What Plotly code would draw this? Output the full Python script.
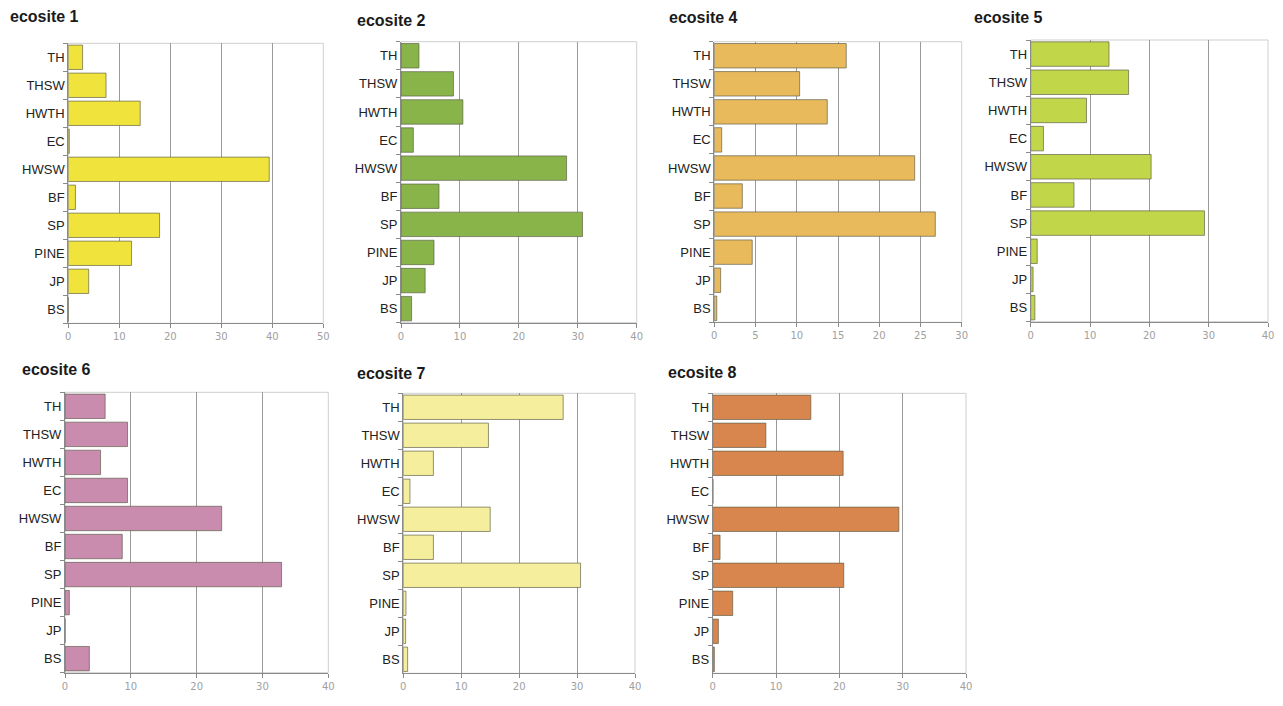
import plotly.graph_objects as go

categories = ["TH", "THSW", "HWTH", "EC", "HWSW", "BF", "SP", "PINE", "JP", "BS"]

ecosite_names = ["ecosite 1", "ecosite 2", "ecosite 4", "ecosite 5", "ecosite 6", "ecosite 7", "ecosite 8"]

ecosite1 = [2.8, 7.4, 14.1, 0.2, 39.4, 1.4, 17.9, 12.4, 4.0, 0.0]
ecosite2 = [3.05, 8.9, 10.5, 2.1, 28.1, 6.45, 30.8, 5.6, 4.1, 1.8]
ecosite4 = [16.0, 10.35, 13.7, 0.9, 24.3, 3.4, 26.8, 4.6, 0.77, 0.3]
ecosite5 = [13.2, 16.5, 9.4, 2.15, 20.3, 7.3, 29.3, 1.1, 0.4, 0.7]
ecosite6 = [6.1, 9.5, 5.4, 9.5, 23.8, 8.7, 32.9, 0.66, 0.0, 3.7]
ecosite7 = [27.6, 14.7, 5.2, 1.15, 15.0, 5.2, 30.6, 0.46, 0.4, 0.75]
ecosite8 = [15.5, 8.4, 20.6, 0.05, 29.4, 1.16, 20.7, 3.16, 0.9, 0.26]

series = [ecosite1, ecosite2, ecosite4, ecosite5, ecosite6, ecosite7, ecosite8]
colors = ["#F0E43C", "#88B44A", "#E8BA5C", "#C2D64A", "#C98BAE", "#F5EE9C", "#D8864E"]
x_max = [50, 40, 30, 40, 40, 40, 40]
x_dtick = [10, 10, 5, 10, 10, 10, 10]

# page offset of the plot div (browser body margin)
OFF = 8
W, H = 1283 - 2 * OFF, 706 - 2 * OFF
# plot area boxes in page pixels: (x0, x1, y0top, y1bottom)
boxes = [
    (68.3, 323.3, 43.3, 323.3),
    (401.0, 636.7, 41.7, 322.7),
    (714.3, 961.7, 41.7, 322.3),
    (1030.7, 1268.0, 40.0, 321.7),
    (65.0, 328.3, 392.3, 672.7),
    (403.3, 635.0, 393.3, 673.3),
    (712.7, 966.0, 393.3, 673.3),
]
title_pos = [(8, 16), (355, 20), (667, 18), (972, 17), (20, 369), (355, 373), (666, 372)]

fig = go.Figure()
layout = dict(
    width=W, height=H,
    margin=dict(l=0, r=0, t=0, b=0, autoexpand=False),
    paper_bgcolor="white", plot_bgcolor="white",
    showlegend=False, bargap=0.13,
    font=dict(family="Liberation Sans, Arial, sans-serif", color="#222"),
)
shapes = []
annotations = []

for i, (name, vals, col, xm, dt, box, tp) in enumerate(
        zip(ecosite_names, series, colors, x_max, x_dtick, boxes, title_pos)):
    k = "" if i == 0 else str(i + 1)
    xa, ya = "x" + k, "y" + k
    fig.add_trace(go.Bar(
        x=vals, y=categories, orientation="h", xaxis=xa, yaxis=ya,
        marker=dict(color=col, line=dict(color="rgba(90,90,70,0.65)", width=1)),
        hoverinfo="x+y", name=name,
    ))
    x0, x1, yt, yb = [v - OFF for v in box]
    layout["xaxis" + k] = dict(
        domain=[x0 / W, x1 / W], anchor=ya, range=[0, xm], dtick=dt, tick0=0,
        showgrid=True, gridcolor="#9a9a9a", gridwidth=1,
        showline=True, linecolor="#8a8a8a", linewidth=1,
        ticks="outside", ticklen=4, tickcolor="#8a8a8a",
        tickfont=dict(size=10, color="#a0a0a0", family="DejaVu Sans, sans-serif"),
        zeroline=False, fixedrange=True, automargin=False,
    )
    layout["yaxis" + k] = dict(
        domain=[1 - yb / H, 1 - yt / H], anchor=xa,
        type="category", categoryorder="array", categoryarray=categories[::-1],
        showline=True, linecolor="#8a8a8a", linewidth=1,
        ticks="outside", ticklen=4, tickcolor="#8a8a8a", tickson="boundaries",
        tickfont=dict(size=13, color="#222"), showgrid=False, fixedrange=True,
        automargin=False,
    )
    shapes.append(dict(
        type="rect", xref=xa + " domain", yref=ya + " domain",
        x0=0, x1=1, y0=0, y1=1, line=dict(color="#cfcfcf", width=1), layer="below",
    ))
    annotations.append(dict(
        text="<b>" + name + "</b>", xref="paper", yref="paper",
        x=(tp[0] - OFF) / W, y=1 - (tp[1] - OFF) / H, xanchor="left", yanchor="middle",
        showarrow=False, font=dict(size=16, color="#1a1a1a",
                                   family="Liberation Sans, Arial, sans-serif"),
    ))

layout["shapes"] = shapes
layout["annotations"] = annotations
fig.update_layout(**layout)
fig.write_html("out.html")
